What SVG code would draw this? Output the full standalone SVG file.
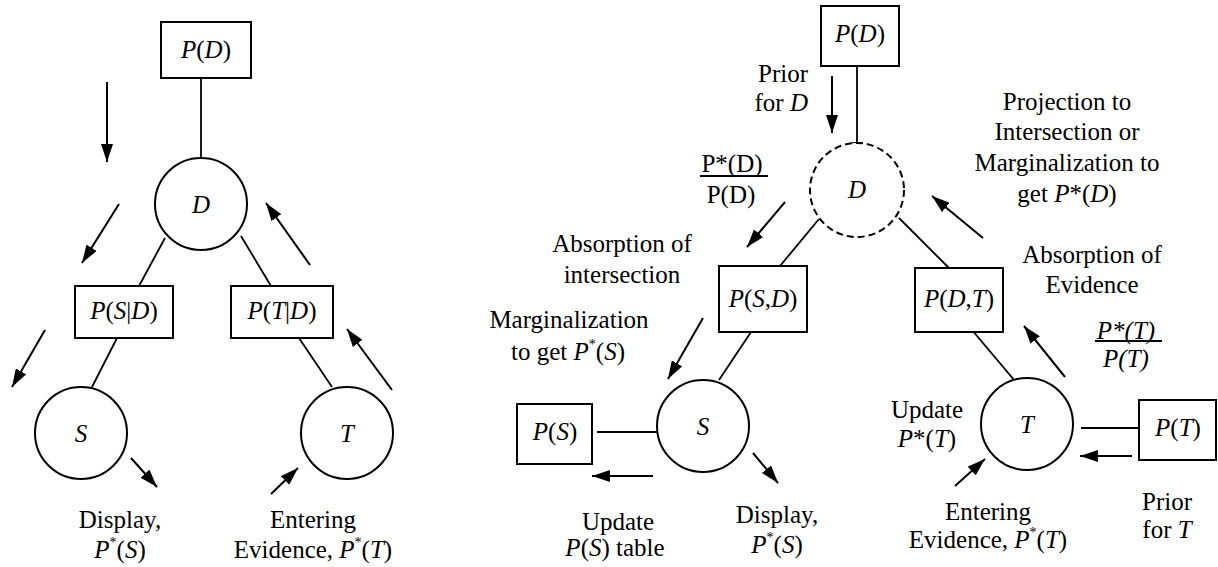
<svg xmlns="http://www.w3.org/2000/svg" width="1218" height="567" viewBox="0 0 1218 567" font-family="Liberation Serif, Times New Roman, serif">
<defs>
<marker id="ah" viewBox="0 0 18 12" refX="18" refY="6" markerWidth="18" markerHeight="12" markerUnits="userSpaceOnUse" orient="auto">
<path d="M0,0 L18,6 L0,12 z" fill="#000"/>
</marker>
<style>
text{font-size:25px;fill:#000;text-anchor:middle}
.i{font-style:italic}
.sup{font-size:14px}
rect,circle{fill:#fff;stroke:#000;stroke-width:2}
.dash{stroke-dasharray:7 4}
.ln{stroke:#000;stroke-width:1.8;fill:none}
.ar{stroke:#000;stroke-width:2;fill:none;marker-end:url(#ah)}
</style>
</defs>
<rect width="1218" height="567" fill="#fff" style="stroke:none"/>

<g id="connectors">
<line class="ln" x1="201" y1="78" x2="201" y2="158"/>
<line class="ln" x1="165" y1="238" x2="139" y2="286"/>
<line class="ln" x1="241" y1="236" x2="271" y2="286"/>
<line class="ln" x1="117" y1="338" x2="92" y2="387"/>
<line class="ln" x1="299" y1="338" x2="332" y2="387"/>
<line class="ar" x1="107" y1="82" x2="107" y2="162"/>
<line class="ar" x1="119" y1="204" x2="82" y2="263"/>
<line class="ar" x1="310" y1="265" x2="266" y2="203"/>
<line class="ar" x1="45" y1="330" x2="12" y2="387"/>
<line class="ar" x1="392" y1="390" x2="347" y2="329"/>
<line class="ar" x1="131" y1="458" x2="157" y2="487"/>
<line class="ar" x1="271" y1="494" x2="298" y2="468"/>
<line class="ln" x1="857" y1="66" x2="857" y2="143"/>
<line class="ln" x1="852" y1="143" x2="863" y2="143"/>
<line class="ln" x1="819" y1="219" x2="780" y2="266"/>
<line class="ln" x1="899" y1="218" x2="949" y2="268"/>
<line class="ln" x1="751" y1="332" x2="719" y2="380"/>
<line class="ln" x1="972" y1="330" x2="1020" y2="387"/>
<line class="ln" x1="597" y1="432" x2="657" y2="432"/>
<line class="ln" x1="1081" y1="428" x2="1139" y2="428"/>
<line class="ar" x1="832" y1="76" x2="832" y2="133"/>
<line class="ar" x1="785" y1="202" x2="747" y2="247"/>
<line class="ar" x1="983" y1="238" x2="932" y2="196"/>
<line class="ar" x1="703" y1="318" x2="668" y2="379"/>
<line class="ar" x1="653" y1="476" x2="592" y2="476"/>
<line class="ar" x1="753" y1="453" x2="778" y2="483"/>
<line class="ar" x1="1065" y1="377" x2="1024" y2="326"/>
<line class="ar" x1="1132" y1="456" x2="1080" y2="456"/>
<line class="ar" x1="955" y1="486" x2="985" y2="459"/>
</g>

<g id="L_PD"><rect x="161" y="22" width="90" height="56"/><text x="206" y="58"><tspan class="i">P</tspan>(<tspan class="i">D</tspan>)</text></g>
<g id="L_D"><circle cx="201" cy="204" r="46"/><text x="201" y="213" class="i">D</text></g>
<g id="L_PSD"><rect x="75" y="286" width="98" height="52"/><text x="124" y="319"><tspan class="i">P</tspan>(<tspan class="i">S</tspan>|<tspan class="i">D</tspan>)</text></g>
<g id="L_PTD"><rect x="231" y="286" width="102" height="52"/><text x="282" y="319"><tspan class="i">P</tspan>(<tspan class="i">T</tspan>|<tspan class="i">D</tspan>)</text></g>
<g id="L_S"><circle cx="81" cy="433" r="46"/><text x="81" y="442" class="i">S</text></g>
<g id="L_T"><circle cx="347" cy="433" r="46"/><text x="347" y="442" class="i">T</text></g>
<g id="L_labels">
<text x="120" y="528">Display,</text>
<text x="120" y="558"><tspan class="i">P</tspan><tspan class="sup" dy="-11">*</tspan><tspan dy="11">(</tspan><tspan class="i">S</tspan>)</text>
<text x="313" y="528">Entering</text>
<text x="313" y="558">Evidence, <tspan class="i">P</tspan><tspan class="sup" dy="-11">*</tspan><tspan dy="11">(</tspan><tspan class="i">T</tspan>)</text>
</g>

<g id="R_PD"><rect x="821" y="6" width="78" height="60"/><text x="860" y="42"><tspan class="i">P</tspan>(<tspan class="i">D</tspan>)</text></g>
<g id="R_D"><circle class="dash" cx="857" cy="190" r="47"/><text x="857" y="198" class="i">D</text></g>
<g id="R_PSD"><rect x="719" y="266" width="88" height="66"/><text x="763" y="307"><tspan class="i">P</tspan>(<tspan class="i">S</tspan>,<tspan class="i">D</tspan>)</text></g>
<g id="R_PDT"><rect x="915" y="268" width="88" height="64"/><text x="959" y="307"><tspan class="i">P</tspan>(<tspan class="i">D</tspan>,<tspan class="i">T</tspan>)</text></g>
<g id="R_S"><circle cx="703" cy="426" r="46"/><text x="703" y="435" class="i">S</text></g>
<g id="R_T"><circle cx="1027" cy="424" r="46"/><text x="1027" y="433" class="i">T</text></g>
<g id="R_PS"><rect x="517" y="404" width="75" height="60"/><text x="555" y="440"><tspan class="i">P</tspan>(<tspan class="i">S</tspan>)</text></g>
<g id="R_PT"><rect x="1139" y="400" width="77" height="60"/><text x="1178" y="436"><tspan class="i">P</tspan>(<tspan class="i">T</tspan>)</text></g>

<g id="R_labels">
<text x="808" y="82" style="text-anchor:end">Prior</text>
<text x="808" y="111" style="text-anchor:end">for <tspan class="i">D</tspan></text>
<text x="732" y="172">P*(D)</text>
<line class="ln" x1="700" y1="176" x2="768" y2="176"/>
<text x="731" y="203">P(D)</text>
<text x="622" y="252">Absorption of</text>
<text x="622" y="283">intersection</text>
<text x="569" y="328">Marginalization</text>
<text x="568" y="360">to get <tspan class="i">P</tspan><tspan class="sup" dy="-11">*</tspan><tspan dy="11">(</tspan><tspan class="i">S</tspan>)</text>
<text x="618" y="530">Update</text>
<text x="615" y="556"><tspan class="i">P</tspan>(<tspan class="i">S</tspan>) table</text>
<text x="777" y="523">Display,</text>
<text x="777" y="553"><tspan class="i">P</tspan><tspan class="sup" dy="-11">*</tspan><tspan dy="11">(</tspan><tspan class="i">S</tspan>)</text>
<text x="1067" y="110">Projection to</text>
<text x="1067" y="140">Intersection or</text>
<text x="1067" y="171">Marginalization to</text>
<text x="1067" y="202">get <tspan class="i">P</tspan>*(<tspan class="i">D</tspan>)</text>
<text x="1092" y="263">Absorption of</text>
<text x="1092" y="293">Evidence</text>
<text x="1126" y="339" class="i">P*(T)</text>
<line class="ln" x1="1095" y1="341" x2="1162" y2="341"/>
<text x="1126" y="367" class="i">P(T)</text>
<text x="927" y="418">Update</text>
<text x="927" y="447"><tspan class="i">P</tspan>*(<tspan class="i">T</tspan>)</text>
<text x="988" y="520">Entering</text>
<text x="988" y="548">Evidence, <tspan class="i">P</tspan><tspan class="sup" dy="-11">*</tspan><tspan dy="11">(</tspan><tspan class="i">T</tspan>)</text>
<text x="1167" y="510">Prior</text>
<text x="1167" y="538">for <tspan class="i">T</tspan></text>
</g>
</svg>
